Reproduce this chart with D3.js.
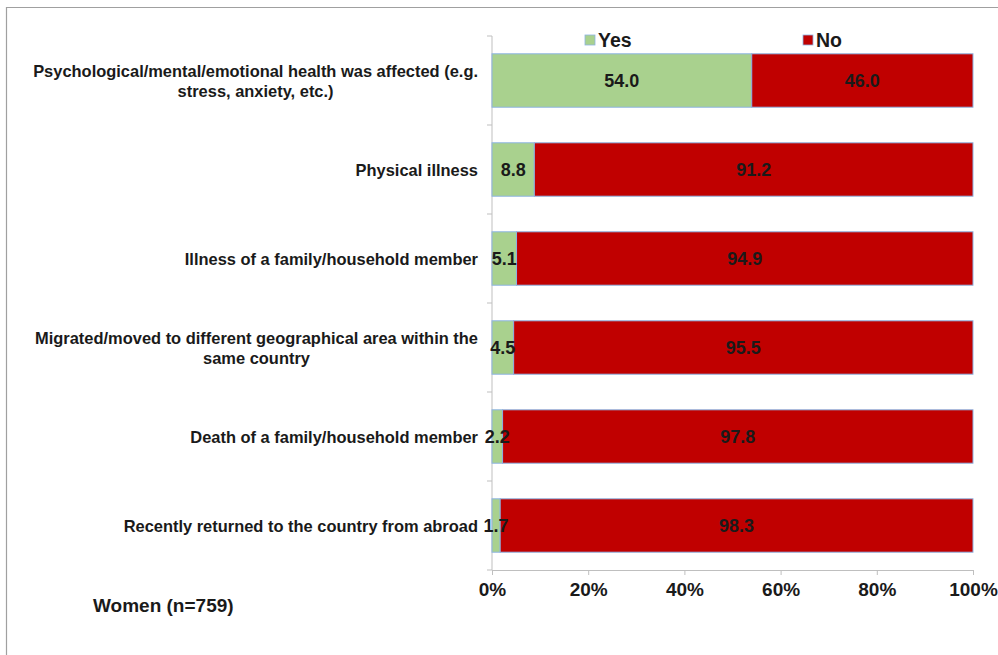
<!DOCTYPE html>
<html><head><meta charset="utf-8">
<script src="https://cdn.jsdelivr.net/npm/d3@7"></script>
<style>body{margin:0;background:#fff;}svg{display:block;font-family:"Liberation Sans",Arial,sans-serif;}</style>
</head><body><svg id="c" width="998" height="655"></svg>
<script>
const categories = [
  ["Psychological/mental/emotional health was affected (e.g.", "stress, anxiety, etc.)"],
  ["Physical illness"],
  ["Illness of a family/household member"],
  ["Migrated/moved to different geographical area within the", "same country"],
  ["Death of a family/household member"],
  ["Recently returned to the country from abroad"]
];
const yesValues = [54.0, 8.8, 5.1, 4.5, 2.2, 1.7];
const noValues = [46.0, 91.2, 94.9, 95.5, 97.8, 98.3];
const seriesNames = ["Yes", "No"];
const colors = ["#a9d18e", "#c00000"];
const xTicks = [0, 20, 40, 60, 80, 100];

const svg = d3.select("#c");
// frame
svg.append("line").attr("x1",6.5).attr("x2",6.5).attr("y1",7).attr("y2",655).attr("stroke","#a0a0a0").attr("stroke-width",1.2);
svg.append("line").attr("x1",6).attr("x2",998).attr("y1",7.5).attr("y2",7.5).attr("stroke","#a0a0a0").attr("stroke-width",1.2);

const x = d3.scaleLinear().domain([0,100]).range([492,973]);
const idx = categories.map((d,i)=>i);
const y = d3.scaleBand().domain(idx).range([36,570]).paddingInner(0.4).paddingOuter(0.2);

// axes
const xAxis = d3.axisBottom(x).tickValues(xTicks).tickFormat(d=>d+"%").tickSize(5).tickSizeOuter(0);
const gx = svg.append("g").attr("transform","translate(0,570)").call(xAxis);
gx.select(".domain").attr("stroke","#bfbfbf");
gx.selectAll(".tick line").attr("stroke","#bfbfbf");
gx.selectAll(".tick text").attr("font-size",19).attr("font-weight","bold").attr("fill","#1a1a1a").attr("dy","0.95em").attr("font-family","Liberation Sans, Arial, sans-serif");

// y axis line and ticks at band boundaries
svg.append("line").attr("x1",492).attr("x2",492).attr("y1",36).attr("y2",570).attr("stroke","#bfbfbf");
const step = y.step();
d3.range(0,7).forEach(k=>{
  const yy = 36 + k*step;
  svg.append("line").attr("x1",487).attr("x2",492).attr("y1",yy).attr("y2",yy).attr("stroke","#bfbfbf");
});

// bars
const stackData = idx.map(i=>({i, yes: yesValues[i], no: noValues[i]}));
const stack = d3.stack().keys(["yes","no"])(stackData);
stack.forEach((layer,li)=>{
  svg.append("g").selectAll("rect").data(layer).join("rect")
    .attr("x",d=>x(d[0])).attr("width",d=>x(d[1])-x(d[0]))
    .attr("y",d=>y(d.data.i)).attr("height",y.bandwidth())
    .attr("fill",colors[li]).attr("stroke","#8eb4e3").attr("stroke-width",1);
});
stack.forEach((layer,li)=>{
  svg.append("g").selectAll("text").data(layer).join("text")
    .attr("x",d=>(x(d[0])+x(d[1]))/2).attr("y",d=>y(d.data.i)+y.bandwidth()/2)
    .attr("text-anchor","middle").attr("dominant-baseline","central")
    .attr("font-size",18).attr("font-weight","bold").attr("fill","#1a1a1a")
    .text(d=>(d[1]-d[0]).toFixed(1));
});

// category labels (block right-aligned, lines centered within block)
categories.forEach((lines,i)=>{
  const cy = y(i)+y.bandwidth()/2;
  const lh = 20;
  const g = svg.append("g");
  const texts = lines.map((ln,j)=> g.append("text").attr("text-anchor","middle").attr("font-size",16.45).attr("font-weight","bold").attr("fill","#1a1a1a")
     .attr("y", cy + (j-(lines.length-1)/2)*lh).attr("dominant-baseline","central").text(ln));
  const widths = texts.map(t=>t.node().getComputedTextLength());
  const maxW = d3.max(widths);
  texts.forEach(t=>t.attr("x", 478 - maxW/2));
});

// legend
const legendX = [585, 803];
seriesNames.forEach((s,i)=>{
  svg.append("rect").attr("x",legendX[i]).attr("y",35).attr("width",10).attr("height",10).attr("fill",colors[i]).attr("stroke","#8eb4e3").attr("stroke-width",0.8);
  svg.append("text").attr("x",legendX[i]+13).attr("y",40).attr("dominant-baseline","central").attr("font-size",19.5).attr("font-weight","bold").attr("fill","#1a1a1a").text(s);
});

svg.append("text").attr("x",93).attr("y",605).attr("dominant-baseline","central").attr("font-size",19).attr("font-weight","bold").attr("fill","#1a1a1a").text("Women (n=759)");
</script></body></html>
